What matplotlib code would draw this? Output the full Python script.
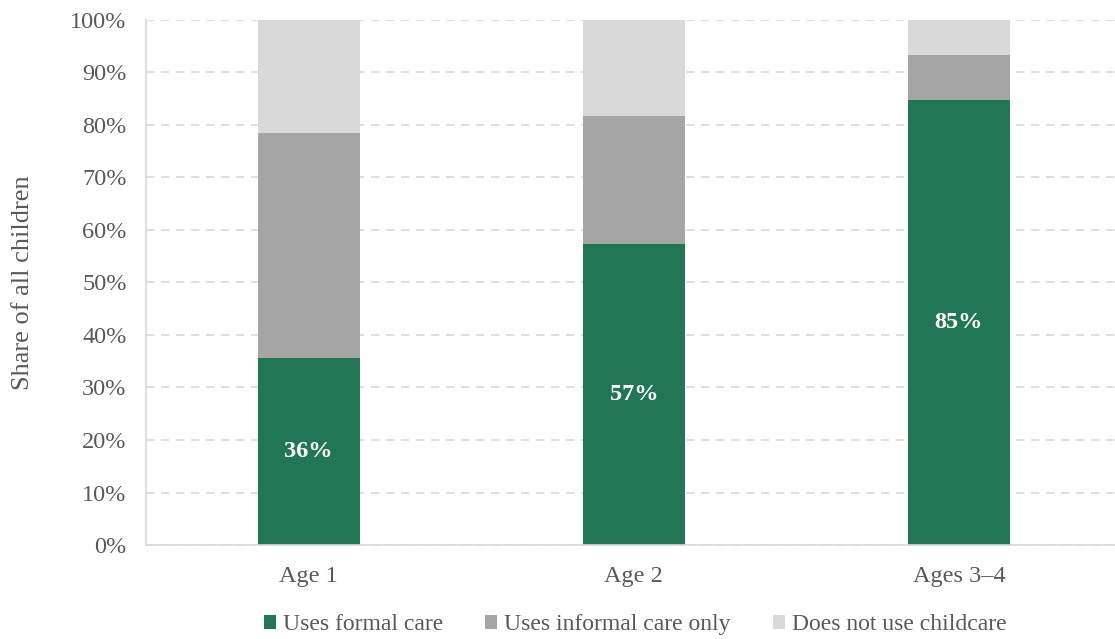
import matplotlib.pyplot as plt
import numpy as np

plt.rcParams['font.family'] = ['Liberation Serif', 'DejaVu Serif']

categories = ['Age 1', 'Age 2', 'Ages 3–4']
formal = [35.6, 57.3, 84.8]
informal = [42.9, 24.4, 8.5]
none_ = [21.5, 18.3, 6.7]
series_names = ['Uses formal care', 'Uses informal care only', 'Does not use childcare']
colors = ['#217656', '#A5A5A5', '#D9D9D9']
txt = '#595959'

fig = plt.figure(figsize=(11.15, 6.39), dpi=100)
ax = fig.add_axes([0.131, 0.147, 0.869, 0.822])

x = np.arange(len(categories))
w = 0.314
ax.bar(x, formal, w, color=colors[0], label=series_names[0], zorder=2)
ax.bar(x, informal, w, bottom=formal, color=colors[1], label=series_names[1], zorder=2)
ax.bar(x, none_, w, bottom=np.array(formal) + np.array(informal), color=colors[2],
       label=series_names[2], zorder=2)

for xi, v in zip(x, formal):
    ax.text(xi, v / 2, f'{v:.0f}%', ha='center', va='center', color='white',
            fontsize=17.5, fontweight='bold', zorder=3)

ax.set_xlim(-0.5, 2.48)
ax.set_ylim(0, 100)
ax.set_yticks(np.arange(0, 101, 10))
ax.set_yticklabels([f'{t}%' for t in range(0, 101, 10)])
ax.set_xticks(x)
ax.set_xticklabels(categories)
ax.tick_params(axis='both', length=0, labelsize=17.5, labelcolor=txt)
ax.tick_params(axis='y', pad=14)
ax.tick_params(axis='x', pad=15)
ax.yaxis.grid(True, linestyle=(0, (5, 4)), color='#D9D9D9', linewidth=1.2, zorder=0)
ax.set_axisbelow(True)
for s in ['top', 'right']:
    ax.spines[s].set_visible(False)
for s in ['left', 'bottom']:
    ax.spines[s].set_color('#D9D9D9')
    ax.spines[s].set_linewidth(1.2)
ax.set_ylabel('Share of all children', fontsize=19, color=txt, labelpad=26)

ax.legend(loc='center', bbox_to_anchor=(0.505, -0.152), ncol=3,
          frameon=False, fontsize=17, labelcolor=txt, handlelength=0.5,
          handleheight=0.5, handletextpad=0.3, columnspacing=1.8)

fig.savefig('out.png', dpi=100)
